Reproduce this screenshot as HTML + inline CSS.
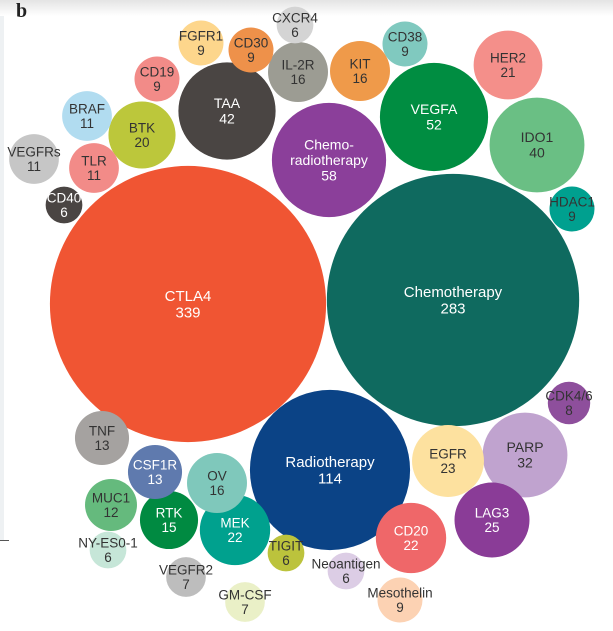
<!DOCTYPE html>
<html><head><meta charset="utf-8">
<style>
html,body{margin:0;padding:0;background:#fff;}
body{width:613px;height:631px;overflow:hidden;position:relative;font-family:"Liberation Sans",sans-serif;}
#band{position:absolute;left:0;top:0;width:613px;height:16px;background:linear-gradient(#e4e4e4,#fff);}
#edge{position:absolute;left:0;top:16px;width:4px;height:524px;background:#eef1f3;}
#tick{position:absolute;left:0;top:540px;width:9px;height:1px;background:#555;}
#title{position:absolute;left:16px;top:0px;font-weight:bold;font-size:20px;color:#222;font-family:"Liberation Serif",serif;}
svg{position:absolute;left:0;top:0;}
</style></head><body>
<div id="band"></div>
<div id="edge"></div>
<div id="tick"></div>
<div id="title">b</div>
<svg id="chart" width="613" height="631"></svg>
<script>
const labels=["CTLA4","Chemotherapy","Radiotherapy","Chemo-|radiotherapy","VEGFA","TAA","IDO1","PARP","LAG3","EGFR","MEK","CD20","HER2","BTK","IL-2R","KIT","OV","RTK","TNF","CSF1R","MUC1","BRAF","TLR","VEGFRs","FGFR1","CD30","CD19","CD38","HDAC1","Mesothelin","CDK4/6","VEGFR2","GM-CSF","CXCR4","CD40","NY-ES0-1","TIGIT","Neoantigen"];
const values=[339,283,114,58,52,42,40,32,25,23,22,22,21,20,16,16,16,15,13,13,12,11,11,11,9,9,9,9,9,9,8,7,7,6,6,6,6,6];
const colors=["#f05533","#0f6a5f","#0b4386","#8b3f9a","#008d41","#4a4543","#6abf84","#c0a3cf","#8a3c97","#fde19f","#00a18e","#ef6769","#f48f8a","#bcc73b","#9c9c93","#ef9a4a","#7fc8bb","#008a41","#a5a2a0","#5f7aae","#65ba7d","#b1dcf0","#f28b88","#c6c6c6","#fdd68c","#ee914a","#f28b88","#80c9bf","#00a08f","#fcd2b3","#8e4f9c","#bdbdbd","#eaf0c7","#d4d4d4","#4a4543","#c6e6d8","#bcc33c","#dccde5"];
const textColors=["#fff","#fff","#fff","#fff","#fff","#fff","#333","#333","#fff","#333","#fff","#fff","#333","#333","#333","#333","#333","#fff","#333","#fff","#333","#333","#333","#333","#333","#333","#333","#333","#333","#333","#333","#333","#333","#333","#fff","#333","#333","#333"];
// layout (bubble centres), not data
const cx=[188,453,330,329,434,227,537,525,492,448,235,411,508,142,298,360,217,169,102,155,111,87,94,34,201,251,157,405,572,400,569,186,245,295,64,108,286,346];
const cy=[304,300,470,160,117,111,145,455,520,461,530,538,65,135,72,71,483,520,438,472,505,116,168,159,43,50,79,44,209,600,403,577,602,25,205,550,553,571];
function rScale(v){return 7.5*Math.sqrt(v);}
const svg=document.getElementById('chart');
const NS='http://www.w3.org/2000/svg';
for(let i=0;i<values.length;i++){
  const g=document.createElementNS(NS,'g');
  
  
  const c=document.createElementNS(NS,'circle');
  
  
  const r=rScale(values[i]);
  c.setAttribute('cx',cx[i]);c.setAttribute('cy',cy[i]);c.setAttribute('r',r);
  c.setAttribute('fill',colors[i]);
  g.appendChild(c);
  const lines=labels[i].split('|').concat([String(values[i])]);
  const fs=r>60?15:(r>40?14:13.5);
  const lh=fs*1.1;
  const y0=cy[i]-(lines.length-1)*lh/2+fs*0.35;
  lines.forEach((t,k)=>{
    const tx=document.createElementNS(NS,'text');
    
    
    tx.setAttribute('x',cx[i]);tx.setAttribute('y',y0+k*lh);
    tx.setAttribute('text-anchor','middle');
    tx.setAttribute('font-size',fs);
    tx.setAttribute('fill',textColors[i]);
    tx.setAttribute('font-family','Liberation Sans, sans-serif');
    tx.textContent=t;
    g.appendChild(tx);
  });
  svg.appendChild(g);
}
</script>
</body></html>
